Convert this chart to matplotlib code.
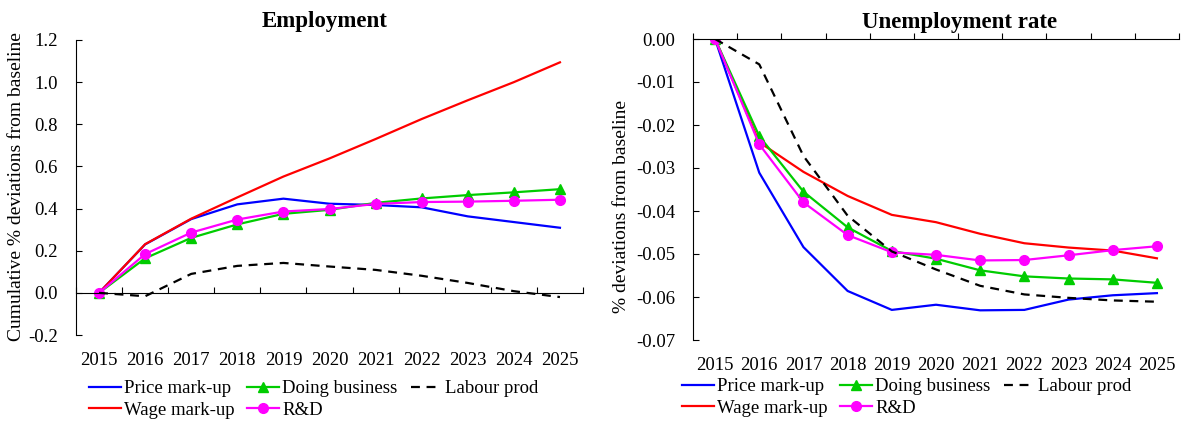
import matplotlib
matplotlib.use("Agg")
import matplotlib.pyplot as plt
from matplotlib.ticker import FixedLocator, FormatStrFormatter

plt.rcParams['font.family'] = ['Liberation Serif', 'DejaVu Serif']
plt.rcParams['axes.unicode_minus'] = False

# years on the x axis
years = ["2015", "2016", "2017", "2018", "2019", "2020",
         "2021", "2022", "2023", "2024", "2025"]

# Employment, cumulative % deviations from baseline
emp_price = [0.0, 0.230, 0.350, 0.420, 0.447, 0.423, 0.417, 0.406, 0.363, 0.336, 0.309]
emp_wage = [0.0, 0.231, 0.352, 0.453, 0.552, 0.638, 0.730, 0.825, 0.914, 1.000, 1.094]
emp_doing = [0.0, 0.164, 0.261, 0.325, 0.375, 0.394, 0.427, 0.448, 0.464, 0.477, 0.492]
emp_rd = [0.0, 0.184, 0.286, 0.348, 0.386, 0.398, 0.422, 0.431, 0.433, 0.437, 0.442]
emp_labour = [0.0, -0.016, 0.090, 0.128, 0.142, 0.125, 0.109, 0.081, 0.047, 0.008, -0.020]

# Unemployment rate, % deviations from baseline
un_price = [0.0, -0.0311, -0.0484, -0.0586, -0.0630, -0.0618, -0.0631, -0.0630, -0.0606, -0.0596, -0.0591]
un_wage = [0.0, -0.0240, -0.0309, -0.0365, -0.0409, -0.0426, -0.0453, -0.0475, -0.0485, -0.0492, -0.0510]
un_doing = [0.0, -0.0226, -0.0355, -0.0438, -0.0493, -0.0511, -0.0538, -0.0552, -0.0557, -0.0559, -0.0567]
un_rd = [0.0, -0.0245, -0.0380, -0.0456, -0.0496, -0.0502, -0.0515, -0.0514, -0.0503, -0.0491, -0.0482]
un_labour = [0.0, -0.0059, -0.0272, -0.0411, -0.0494, -0.0536, -0.0574, -0.0594, -0.0602, -0.0608, -0.0611]

emp_ticks = [-0.2, 0.0, 0.2, 0.4, 0.6, 0.8, 1.0, 1.2]
un_ticks = [-0.07, -0.06, -0.05, -0.04, -0.03, -0.02, -0.01, 0.0]

W, H = 1186, 426
fig = plt.figure(figsize=(W / 100, H / 100), dpi=100)

ax1 = fig.add_axes([76 / W, 1 - 335 / H, 507 / W, 295 / H])
ax2 = fig.add_axes([693 / W, 1 - 340 / H, 486 / W, 301 / H])

x = list(range(len(years)))


def draw(ax, price, wage, doing, rd, labour):
    ax.plot(x, price, color="#0000FF", lw=1.6, label="Price mark-up")
    ax.plot(x, wage, color="#FF0000", lw=1.6, label="Wage mark-up")
    ax.plot(x, doing, color="#00CC00", lw=1.6, marker="^", ms=7.5, label="Doing business")
    ax.plot(x, rd, color="#FF00FF", lw=1.6, marker="o", ms=7, label="R&D")
    ax.plot(x, labour, color="black", lw=1.6, dashes=(4, 3), label="Labour prod")

    ax.set_xlim(-0.5, len(years) - 0.5)
    ax.set_xticks(x)
    ax.set_xticklabels(years)
    # tick marks sit on the zero line, between the years
    ax.xaxis.set_minor_locator(FixedLocator([i - 0.5 for i in range(len(years) + 1)]))
    ax.tick_params(axis="x", which="major", length=0, pad=12, labelsize=13.5,
                   bottom=True, top=False)
    ax.tick_params(axis="x", which="minor", length=4, width=0.8, direction="out",
                   bottom=False, top=True)
    ax.spines["top"].set_position(("data", 0))
    ax.spines["bottom"].set_visible(False)
    ax.spines["right"].set_visible(False)
    ax.tick_params(axis="y", direction="in", length=4, width=0.8, pad=13, labelsize=13.5)
    for s in ("top", "left"):
        ax.spines[s].set_linewidth(0.8)


draw(ax1, emp_price, emp_wage, emp_doing, emp_rd, emp_labour)
ax1.set_ylim(-0.2, 1.2)
ax1.set_yticks(emp_ticks)
ax1.yaxis.set_major_formatter(FormatStrFormatter("%.1f"))
ax1.set_ylabel("Cumulative % deviations from baseline", fontsize=14)
ax1.yaxis.set_label_coords(-0.10, 0.503)
ax1.text(0.491, 1.064, "Employment", transform=ax1.transAxes, ha="center",
         va="center", fontsize=16.5, fontweight="bold")

draw(ax2, un_price, un_wage, un_doing, un_rd, un_labour)
ax2.set_ylim(-0.07, 0.0)
ax2.set_yticks(un_ticks)
ax2.yaxis.set_major_formatter(FormatStrFormatter("%.2f"))
ax2.set_ylabel("% deviations from baseline", fontsize=14)
ax2.yaxis.set_label_coords(-0.13, 0.445)
ax2.text(0.549, 1.056, "Unemployment rate", transform=ax2.transAxes, ha="center",
         va="center", fontsize=16.5, fontweight="bold")

# legends below each panel, 3 columns
for ax, pos in ((ax1, (89 / W, 1 - 380 / H)), (ax2, (682 / W, 1 - 378 / H))):
    ax.legend(ncol=3, loc="upper left", bbox_to_anchor=pos, bbox_transform=fig.transFigure,
              frameon=False, fontsize=13.5, handlelength=1.7, handletextpad=0.15,
              columnspacing=0.7, labelspacing=0.25, borderpad=0, borderaxespad=0)

fig.savefig("out.png", dpi=100)
